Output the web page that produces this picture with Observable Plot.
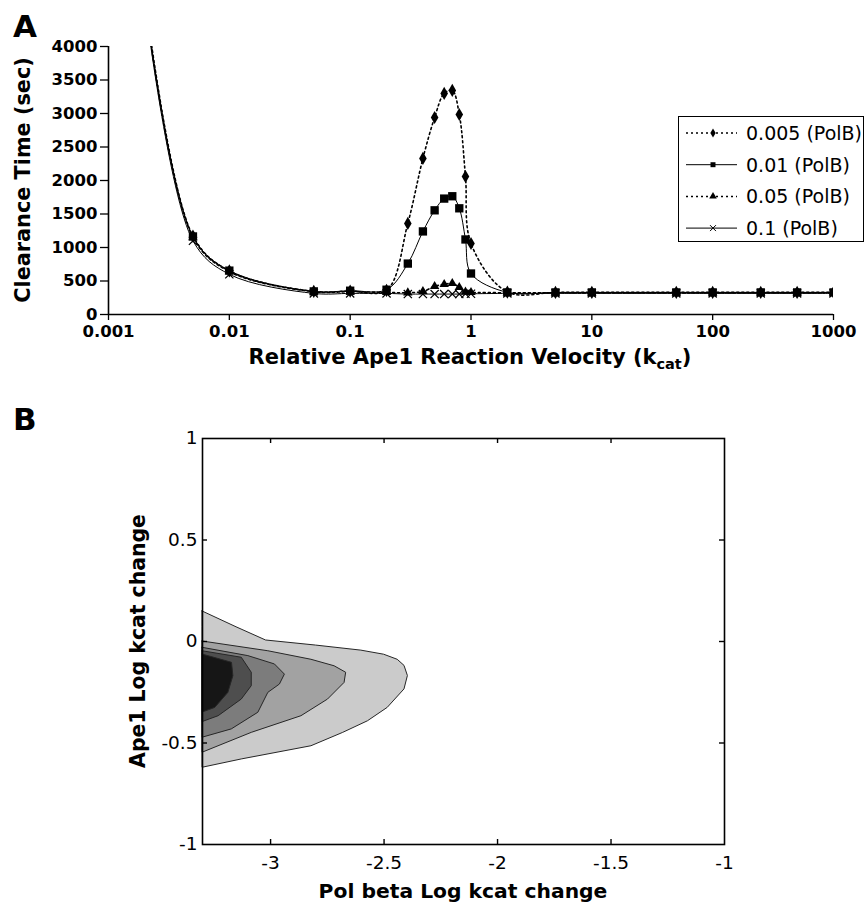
<!DOCTYPE html>
<html><head><meta charset="utf-8">
<script src="https://cdn.jsdelivr.net/npm/d3@7"></script>
<script src="https://cdn.jsdelivr.net/npm/@observablehq/plot@0.6"></script>
<style>
html,body{margin:0;padding:0;background:#fff;}
#root{position:relative;width:865px;height:905px;overflow:hidden;font-family:"DejaVu Sans",sans-serif;}
#root svg{position:absolute;left:0;}
</style></head><body><div id="root"></div>
<script>
// ---------- Panel A data ----------
const velocity = [0.002, 0.005, 0.01, 0.05, 0.1, 0.2, 0.3, 0.4, 0.5, 0.6, 0.7, 0.8, 0.9, 1, 2, 5, 10, 50, 100, 250, 500, 1000];
const polB0005 = [4750, 1170, 650, 345, 350, 360, 1360, 2330, 2940, 3300, 3345, 2985, 2060, 1060, 335, 330, 330, 330, 330, 330, 330, 330];
const polB001  = [4700, 1165, 655, 345, 355, 370, 760, 1240, 1555, 1730, 1765, 1585, 1120, 612, 330, 330, 330, 330, 330, 330, 330, 330];
const polB005  = [4700, 1150, 640, 340, 340, 330, 325, 345, 420, 450, 465, 405, 335, 330, 325, 325, 325, 325, 325, 325, 325, 325];
const polB01   = [4650, 1100, 600, 315, 315, 315, 305, 305, 305, 305, 305, 305, 310, 310, 315, 315, 315, 315, 315, 315, 315, 315];
const seriesNames = ["0.005 (PolB)", "0.01 (PolB)", "0.05 (PolB)", "0.1 (PolB)"];
const velocityTicks = [0.001, 0.01, 0.1, 1, 10, 100, 1000];
const clearanceTicks = [0, 500, 1000, 1500, 2000, 2500, 3000, 3500, 4000];

// ---------- Panel B data ([Ape1 log kcat change, Pol beta log kcat change at contour edge]) ----------
const polBetaTicks = [-3, -2.5, -2, -1.5, -1];
const ape1Ticks = [-1, -0.5, 0, 0.5, 1];
const polBetaDomain = [-3.3, -1];
const ape1Domain = [-1, 1];
const contour1 = [[0.148,-3.3],[0.07,-3.15],[0.005,-3.02],[-0.02,-2.8],[-0.045,-2.6],[-0.065,-2.5],[-0.09,-2.44],[-0.12,-2.41],[-0.17,-2.395],[-0.236,-2.41],[-0.327,-2.484],[-0.393,-2.571],[-0.45,-2.68],[-0.516,-2.82],[-0.581,-3.127],[-0.622,-3.3]];
const contour2 = [[0.0,-3.3],[-0.048,-3.01],[-0.09,-2.82],[-0.122,-2.718],[-0.154,-2.667],[-0.204,-2.674],[-0.286,-2.747],[-0.368,-2.864],[-0.45,-3.083],[-0.548,-3.3]];
const contour3 = [[-0.031,-3.3],[-0.072,-3.098],[-0.113,-2.981],[-0.163,-2.937],[-0.212,-2.959],[-0.253,-3.01],[-0.351,-3.054],[-0.433,-3.171],[-0.474,-3.3]];
const contour4 = [[-0.048,-3.3],[-0.08,-3.127],[-0.154,-3.083],[-0.22,-3.083],[-0.286,-3.127],[-0.368,-3.229],[-0.397,-3.3]];
const contour5 = [[-0.064,-3.3],[-0.105,-3.17],[-0.171,-3.164],[-0.253,-3.186],[-0.327,-3.244],[-0.35,-3.3]];
const contourFills = ["#cbcbcb", "#a2a2a2", "#7c7c7c", "#4e4e4e", "#161616"];

const root = document.getElementById("root");

// ---------- Panel A ----------
const seriesStyles = [
  {values: polB0005, symbol: "diamond", r: 4, dash: "2,3", width: 1.6},
  {values: polB001, symbol: "square", r: 4.7, dash: null, width: 1},
  {values: polB005, symbol: "triangle", r: 3.5, dash: "2,3", width: 1.6},
  {values: polB01, symbol: "times", r: 3.8, dash: null, width: 1}
];
const lineMarks = [], dotMarks = [];
seriesStyles.forEach((s, k) => {
  const data = velocity.map((v, i) => ({v, t: s.values[i], series: seriesNames[k]}));
  lineMarks.push(Plot.line(data, {x: "v", y: "t", curve: "catmull-rom", stroke: "#000", strokeWidth: s.width, strokeDasharray: s.dash, clip: true}));
  const stroked = s.symbol === "times";
  dotMarks.push(Plot.dot(data, {x: "v", y: "t", symbol: () => s.symbol, r: s.r, fill: stroked ? "none" : "#000", stroke: stroked ? "#000" : "none", strokeWidth: 1.2, clip: true}));
});

const plotA = Plot.plot({
  width: 865, height: 400,
  marginLeft: 108, marginRight: 32, marginTop: 46, marginBottom: 86,
  x: {type: "log", domain: [0.001, 1000]},
  y: {domain: [0, 4000]},
  style: {fontFamily: "DejaVu Sans", fontSize: "16.5px", fontWeight: "bold", color: "#000", background: "transparent"},
  marks: [
    Plot.axisX({ticks: velocityTicks, tickFormat: d => String(d), tickSize: 6, tickPadding: 5, strokeWidth: 1.3, label: null}),
    Plot.axisY({ticks: clearanceTicks, tickFormat: d => String(d), tickSize: 8, tickPadding: 3, strokeWidth: 1.3, label: null}),
    ...lineMarks,
    ...dotMarks,
    Plot.ruleY([0], {strokeWidth: 1.6}),
    Plot.ruleX([0.001], {strokeWidth: 1.6})
  ]
});
plotA.style.top = "0px";
root.appendChild(plotA);

// ---------- Panel B ----------
const contours = [contour1, contour2, contour3, contour4, contour5];
const frameH = 505 - 38 - 61, frameW = 865 - 202 - 141;
const plotB = Plot.plot({
  width: 865, height: 505,
  marginLeft: 202, marginRight: 141, marginTop: 38, marginBottom: 61,
  x: {domain: polBetaDomain},
  y: {domain: ape1Domain},
  style: {fontFamily: "DejaVu Sans", fontSize: "18.5px", color: "#000", background: "transparent"},
  marks: [
    ...contours.map((c, i) => Plot.areaX(c, {y: d => d[0], x1: polBetaDomain[0], x2: d => d[1], fill: contourFills[i], stroke: "#262626", strokeWidth: 1})),
    Plot.axisX({ticks: polBetaTicks, tickFormat: d => String(d), tickSize: 0, tickPadding: 11, label: null}),
    Plot.axisY({ticks: ape1Ticks, tickFormat: d => String(d), tickSize: 0, tickPadding: 5, label: null}),
    Plot.tickX(polBetaTicks.slice(0, -1), {x: d => d, insetTop: frameH - 5, strokeWidth: 1.4}),
    Plot.tickX(polBetaTicks.slice(0, -1), {x: d => d, insetBottom: frameH - 5, strokeWidth: 1.4}),
    Plot.tickY(ape1Ticks.slice(1, -1), {y: d => d, insetRight: frameW - 5, strokeWidth: 1.4}),
    Plot.tickY(ape1Ticks.slice(1, -1), {y: d => d, insetLeft: frameW - 5, strokeWidth: 1.4}),
    Plot.frame({stroke: "#000", strokeWidth: 1.6})
  ]
});
plotB.style.top = "400px";
root.appendChild(plotB);

// ---------- Titles, panel letters and legend ----------
const ov = d3.select(root).append("svg")
  .attr("width", 865).attr("height", 905)
  .style("top", "0px").style("pointer-events", "none")
  .attr("font-family", "DejaVu Sans").attr("fill", "#000");

ov.append("text").attr("x", 13).attr("y", 37).attr("font-size", 31).attr("font-weight", "bold").text("A");
ov.append("text").attr("x", 13).attr("y", 430).attr("font-size", 31).attr("font-weight", "bold").text("B");

ov.append("text").attr("transform", "translate(30,180) rotate(-90)").attr("text-anchor", "middle")
  .attr("font-size", 20.8).attr("font-weight", "bold").text("Clearance Time (sec)");
const xt = ov.append("text").attr("x", 470).attr("y", 364).attr("text-anchor", "middle")
  .attr("font-size", 21).attr("font-weight", "bold");
xt.append("tspan").text("Relative Ape1 Reaction Velocity (k");
xt.append("tspan").attr("font-size", 14.5).attr("dy", 5).text("cat");
xt.append("tspan").attr("dy", -5).text(")");

ov.append("text").attr("transform", "translate(145,641) rotate(-90)").attr("text-anchor", "middle")
  .attr("font-size", 20.4).attr("font-weight", "bold").text("Ape1 Log kcat change");
ov.append("text").attr("x", 463).attr("y", 898).attr("text-anchor", "middle")
  .attr("font-size", 20.3).attr("font-weight", "bold").text("Pol beta Log kcat change");

// legend
const lg = ov.append("g").attr("transform", "translate(678,116)");
lg.append("rect").attr("x", 0.5).attr("y", 0.5).attr("width", 185).attr("height", 125)
  .attr("fill", "#fff").attr("stroke", "#000").attr("stroke-width", 1);
const symMap = {diamond: d3.symbolDiamond, square: d3.symbolSquare, triangle: d3.symbolTriangle, times: d3.symbolTimes};
seriesStyles.forEach((s, k) => {
  const yc = 17 + k * 31.7;
  lg.append("line").attr("x1", 8).attr("x2", 59).attr("y1", yc).attr("y2", yc)
    .attr("stroke", "#000").attr("stroke-width", s.dash ? 1.5 : 1).attr("stroke-dasharray", s.dash);
  const stroked = s.symbol === "times";
  lg.append("path").attr("transform", `translate(35,${yc})`)
    .attr("d", d3.symbol(symMap[s.symbol], Math.PI * 2.8 * 2.8)())
    .attr("fill", stroked ? "none" : "#000").attr("stroke", stroked ? "#000" : "none");
  lg.append("text").attr("x", 68).attr("y", yc + 7).attr("font-size", 19).text(seriesNames[k]);
});
</script></body></html>
